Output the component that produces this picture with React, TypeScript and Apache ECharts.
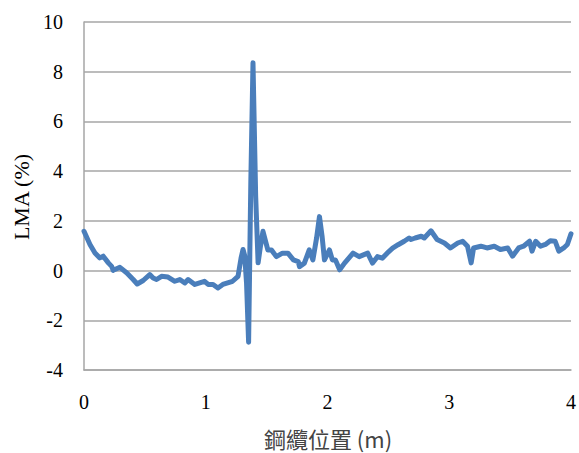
import React, { useEffect, useRef } from "react";
import * as echarts from "echarts";

const positions: number[] = [
  0, 0.049, 0.09, 0.13, 0.158, 0.2, 0.227, 0.24, 0.295, 0.35, 0.404, 0.437, 0.486, 0.54, 0.568, 0.596, 0.637,
  0.69, 0.746, 0.787, 0.828, 0.855, 0.91, 0.99, 1.02, 1.06, 1.1, 1.14, 1.22, 1.265, 1.29, 1.306, 1.32, 1.335,
  1.352, 1.37, 1.388, 1.41, 1.43, 1.45, 1.47, 1.51, 1.54, 1.58, 1.63, 1.675, 1.72, 1.76, 1.77, 1.81, 1.85, 1.88,
  1.91, 1.934, 1.955, 1.975, 2.016, 2.04, 2.065, 2.1, 2.14, 2.21, 2.26, 2.33, 2.37, 2.41, 2.45, 2.49, 2.535,
  2.58, 2.63, 2.67, 2.686, 2.72, 2.77, 2.795, 2.85, 2.9, 2.96, 3.01, 3.07, 3.11, 3.15, 3.18, 3.2, 3.26, 3.31,
  3.37, 3.42, 3.48, 3.52, 3.57, 3.61, 3.66, 3.68, 3.71, 3.75, 3.79, 3.83, 3.87, 3.9, 3.94, 3.97, 4.0,
];

const lmaValues: number[] = [
  1.58, 1.05, 0.71, 0.51, 0.58, 0.31, 0.17, 0.01, 0.13, -0.09, -0.36, -0.54, -0.4, -0.16, -0.3, -0.36, -0.23,
  -0.26, -0.43, -0.36, -0.5, -0.36, -0.56, -0.43, -0.56, -0.56, -0.7, -0.56, -0.43, -0.23, 0.5, 0.85, 0.6, -0.5,
  -2.88, 3.5, 8.36, 3.0, 0.31, 1.0, 1.58, 0.83, 0.83, 0.56, 0.7, 0.7, 0.43, 0.36, 0.16, 0.3, 0.83, 0.43,
  1.3, 2.17, 1.4, 0.43, 0.83, 0.43, 0.43, 0.03, 0.3, 0.7, 0.56, 0.7, 0.3, 0.56, 0.5, 0.7, 0.9,
  1.04, 1.18, 1.31, 1.25, 1.31, 1.38, 1.31, 1.6, 1.25, 1.11, 0.91, 1.11, 1.18, 0.98, 0.31, 0.91, 0.98, 0.91,
  0.98, 0.85, 0.91, 0.58, 0.91, 0.98, 1.18, 0.78, 1.18, 0.98, 1.05, 1.2, 1.18, 0.78, 0.91, 1.05, 1.48,
];

const xTicks = { min: 0, max: 4, interval: 1 };
const yTicks = { min: -4, max: 10, interval: 2 };
const xTitle = "鋼纜位置 (m)";
const yTitle = "LMA (%)";

export default function App() {
  const ref = useRef<HTMLDivElement>(null);
  useEffect(() => {
    document.body.style.margin = "0";
    if (!ref.current) return;
    const chart = echarts.init(ref.current, undefined, { renderer: "svg" });
    const serif = "'Liberation Serif', 'Times New Roman', serif";
    chart.setOption({
      animation: false,
      backgroundColor: "#ffffff",
      grid: { left: 84, right: 7, top: 22, bottom: 83, containLabel: false },
      xAxis: {
        type: "value",
        min: xTicks.min,
        max: xTicks.max,
        interval: xTicks.interval,
        axisLine: { show: true, onZero: false, lineStyle: { color: "#a6a6a6", width: 1.5 } },
        axisTick: { show: false },
        splitLine: { show: false },
        axisLabel: { color: "#000", fontFamily: serif, fontSize: 20, margin: 22 },
      },
      yAxis: {
        type: "value",
        min: yTicks.min,
        max: yTicks.max,
        interval: yTicks.interval,
        axisLine: { show: true, lineStyle: { color: "#a6a6a6", width: 1.5 } },
        axisTick: { show: false },
        splitLine: { show: true, lineStyle: { color: "#a6a6a6", width: 1.5 } },
        axisLabel: { color: "#000", fontFamily: serif, fontSize: 20, margin: 21 },
      },
      graphic: [
        {
          type: "text",
          x: 21,
          y: 197,
          rotation: Math.PI / 2,
          style: {
            text: yTitle,
            fill: "#000",
            font: `22px ${serif}`,
            textAlign: "center",
            textVerticalAlign: "middle",
          },
        },
        {
          type: "text",
          x: 328,
          y: 438,
          style: {
            text: xTitle,
            fill: "#444",
            font: `22px 'Noto Sans CJK TC', ${serif}`,
            textAlign: "center",
            textVerticalAlign: "middle",
          },
        },
      ],
      series: [
        {
          type: "line",
          data: positions.map((x, i) => [x, lmaValues[i]]),
          showSymbol: false,
          smooth: false,
          lineStyle: { color: "#4a7ebb", width: 5, join: "round", cap: "round" },
        },
      ],
    });
    return () => chart.dispose();
  }, []);
  return <div ref={ref} style={{ width: 579, height: 453 }} />;
}
